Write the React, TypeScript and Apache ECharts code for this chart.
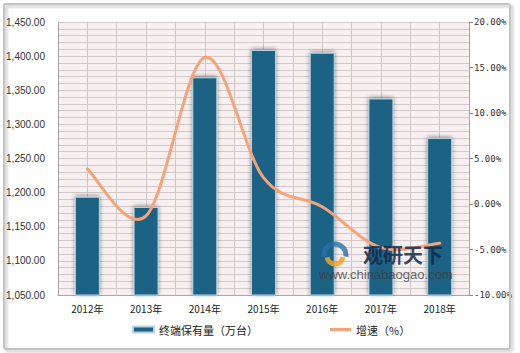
import React, { useEffect, useRef } from "react";
import * as echarts from "echarts";

const categories = ["2012年", "2013年", "2014年", "2015年", "2016年", "2017年", "2018年"];
const terminals = [1194, 1179, 1369, 1409, 1405, 1338, 1280];
const growth = [3.85, -1.3, 16.1, 2.9, -0.3, -4.8, -4.3];
const barName = "终端保有量（万台）";
const lineName = "增速（%）";
const lineColor = "#f5a47a";

export default function App() {
  const ref = useRef<HTMLDivElement>(null);
  useEffect(() => {
    if (!ref.current) return;
    const chart = echarts.init(ref.current, null, { renderer: "svg" });

    const renderCurve = (params: any, api: any) => {
      if (params.dataIndex !== 0) return null;
      const pts = growth.map((v, i) => api.coord([i, v]));
      const n = pts.length;
      const get = (i: number) => pts[Math.max(0, Math.min(n - 1, i))];
      let d = `M${pts[0][0]},${pts[0][1]}`;
      for (let i = 0; i < n - 1; i++) {
        const p0 = get(i - 1), p1 = get(i), p2 = get(i + 1), p3 = get(i + 2);
        const c1x = p1[0] + (p2[0] - p0[0]) / 6;
        const c1y = p1[1] + (p2[1] - p0[1]) / 6;
        const c2x = p2[0] - (p3[0] - p1[0]) / 6;
        const c2y = p2[1] - (p3[1] - p1[1]) / 6;
        d += ` C${c1x},${c1y} ${c2x},${c2y} ${p2[0]},${p2[1]}`;
      }
      return {
        type: "path",
        shape: { pathData: d },
        style: { fill: "none", stroke: lineColor, lineWidth: 3, lineCap: "round", lineJoin: "round" },
      };
    };

    chart.setOption({
      animation: false,
      backgroundColor: "#ffffff",
      grid: {
        left: 58,
        right: 51,
        top: 22,
        bottom: 58,
        show: true,
        backgroundColor: "#f8f0f0",
        borderWidth: 0,
      },
      legend: {
        bottom: 13,
        left: 127,
        itemGap: 72,
        itemWidth: 21,
        itemHeight: 6,
        textStyle: { fontFamily: "Noto Sans CJK SC", fontSize: 11, color: "#222" },
        data: [
          { name: barName, icon: "rect", itemStyle: { color: "#1b6285" } },
          { name: lineName, icon: "path://M0,0h20v3h-20z", itemStyle: { color: lineColor } },
        ],
      },
      xAxis: [
        {
          type: "category",
          data: categories,
          axisLine: { onZero: false, lineStyle: { color: "#a8a8a8", width: 1 } },
          axisTick: { show: false },
          axisLabel: { fontFamily: "Noto Sans CJK SC", fontSize: 10, color: "#222", margin: 8 },
          splitLine: { show: false },
        },
        {
          type: "value",
          min: 0,
          max: 14,
          interval: 1,
          show: true,
          position: "top",
          axisLine: { show: false, onZero: false },
          axisTick: { show: false },
          axisLabel: { show: false },
          splitLine: { show: true, lineStyle: { color: "#d2caca", width: 1 } },
        },
      ],
      yAxis: [
        {
          type: "value",
          min: 1050,
          max: 1450,
          interval: 50,
          axisLine: { show: true, onZero: false, lineStyle: { color: "#a8a8a8" } },
          axisTick: { show: false },
          axisLabel: {
            fontFamily: "Liberation Sans",
            fontSize: 10,
            color: "#333",
            margin: 13,
            formatter: (v: number) =>
              v.toLocaleString("en-US", { minimumFractionDigits: 2, maximumFractionDigits: 2 }),
          },
          splitLine: { show: true, lineStyle: { color: "#d2caca", width: 1 } },
          minorTick: { show: false, splitNumber: 5 },
          minorSplitLine: { show: true, lineStyle: { color: "#d2caca", width: 1 } },
        },
        {
          type: "value",
          min: -10,
          max: 20,
          interval: 5,
          position: "right",
          axisLine: { show: true, onZero: false, lineStyle: { color: "#a8a8a8" } },
          axisTick: { show: true, length: 4, lineStyle: { color: "#888" } },
          axisLabel: {
            fontFamily: "DejaVu Sans Mono",
            fontSize: 9,
            color: "#333",
            margin: 5,
            formatter: (v: number) => v.toFixed(2) + "%",
          },
          splitLine: { show: false },
        },
      ],
      series: [
        {
          name: barName,
          type: "bar",
          xAxisIndex: 0,
          yAxisIndex: 0,
          data: terminals,
          barWidth: 25,
          itemStyle: {
            color: "#1b6285",
            borderColor: "#b9d4e0",
            borderWidth: 1,
            shadowColor: "rgba(0,0,0,0.45)",
            shadowBlur: 4,
            shadowOffsetX: 0,
            shadowOffsetY: -1,
          },
          z: 2,
        },
        {
          name: lineName,
          type: "custom",
          xAxisIndex: 0,
          yAxisIndex: 1,
          data: growth.map((v, i) => [i, v]),
          renderItem: renderCurve,
          itemStyle: { color: lineColor },
          encode: { x: 0, y: 1 },
          clip: false,
          z: 3,
        },
      ],
      graphic: [
        {
          type: "rect",
          shape: { x: 4, y: 4, width: 506, height: 345, r: 2 },
          style: {
            fill: "none",
            stroke: "#c4c4c4",
            lineWidth: 2,
            shadowColor: "rgba(0,0,0,0.25)",
            shadowBlur: 3,
            shadowOffsetX: 2,
            shadowOffsetY: 2,
          },
          silent: true,
          z: 100,
        },
        {
          type: "arc",
          shape: { cx: 335, cy: 255, r: 11, startAngle: Math.PI * 0.95, endAngle: Math.PI * 2.05 },
          style: { stroke: "rgba(40,110,170,0.8)", lineWidth: 5, fill: "none" },
          silent: true,
          z: 100,
        },
        {
          type: "arc",
          shape: { cx: 335, cy: 256, r: 8, startAngle: Math.PI * 0.05, endAngle: Math.PI * 0.95 },
          style: { stroke: "rgba(245,160,40,0.85)", lineWidth: 5, fill: "none" },
          silent: true,
          z: 100,
        },
        {
          type: "text",
          x: 363,
          y: 244,
          style: {
            text: "观研天下",
            font: "bold 20px 'Noto Sans CJK SC'",
            lineHeight: 21,
            fill: "rgba(20,40,70,0.85)",
            verticalAlign: "top",
          },
          silent: true,
          z: 100,
        },
        {
          type: "text",
          x: 319,
          y: 268,
          style: {
            text: "www.chinabaogao.com",
            font: "13px 'Liberation Sans'",
            lineHeight: 13,
            fill: "rgba(60,60,60,0.8)",
            verticalAlign: "top",
          },
          silent: true,
          z: 100,
        },
      ],
    });
    return () => chart.dispose();
  }, []);
  return <div ref={ref} style={{ width: 520, height: 353, position: "absolute", left: 0, top: 0 }} />;
}
